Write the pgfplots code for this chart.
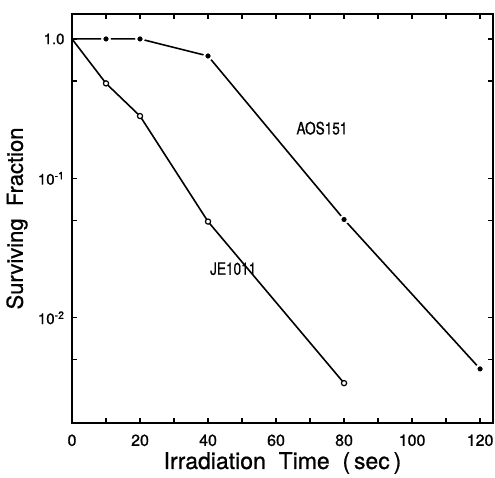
\documentclass[border=0pt]{standalone}
\usepackage{pgfplots}
\pgfplotsset{compat=1.18}
\usepackage{fontspec}
\setmainfont{TeX Gyre Heros}[FakeBold=0.8]
\usepackage{graphicx}

\begin{document}
\begin{tikzpicture}
\begin{axis}[
    scale only axis,
    width=421pt, height=409pt,
    ymode=log,
    xmin=0, xmax=123.8,
    ymin=0.00176, ymax=1.51,
    axis line style={line width=2pt},
    xtick={0,20,...,120},
    minor xtick={10,30,...,110},
    ytick={0.01,0.1,1},
    yticklabels={10\textsuperscript{-2},10\textsuperscript{-1},1.0},
    minor ytick={0.005,0.05,0.5},
    tick align=inside,
    tick style={line width=1.2pt, black},
    major tick length=5pt, minor tick length=5pt,
    /pgf/number format/assume math mode=true,
    xticklabel style={font=\fontsize{16}{19}\selectfont, yshift=-8pt},
    yticklabel style={font=\fontsize{15}{18}\selectfont, xshift=-4pt},
    xlabel={Irradiation\ \ Time\ \ (\,sec\,)},
    ylabel={Surviving\ \ Fraction},
    every axis x label/.style={at={(axis description cs:0.5,-0.0978)}, anchor=center, font=\fontsize{23}{27}\selectfont},
    every axis y label/.style={at={(axis description cs:-0.1306,0.5)}, rotate=90, anchor=center, font=\fontsize{22}{26}\selectfont},
    clip=false,
]
% AOS151 (filled)
\addplot[black, line width=1.6pt, mark=*, mark indices={2,3,4,5,6}, mark size=3.8pt,
    mark options={fill=black, draw=white, line width=2pt}] coordinates {
    (0,1.0) (10,1.0) (20,1.0) (40,0.755) (80,0.0507) (120,0.0043)
};
% JE1011 (open)
\addplot[black, line width=1.6pt, mark=*, mark indices={2,3,4,5}, mark size=2.6pt,
    mark options={fill=white, draw=black, line width=1.2pt}] coordinates {
    (0,1.0) (10,0.48) (20,0.28) (40,0.049) (80,0.0034)
};
\node[font=\fontsize{17}{20}\selectfont] at (axis cs:73.5,0.229) {\scalebox{0.8}[1]{AOS151}};
\node[font=\fontsize{17}{20}\selectfont] at (axis cs:47.4,0.0225) {\scalebox{0.8}[1]{JE1011}};
\coordinate (bl) at (rel axis cs:0,0);
\coordinate (tr) at (rel axis cs:1,1);
\end{axis}
\pgfresetboundingbox
\path ([shift={(-72pt,-55pt)}]bl) rectangle ([shift={(2pt,14pt)}]tr);
\end{tikzpicture}
\end{document}
